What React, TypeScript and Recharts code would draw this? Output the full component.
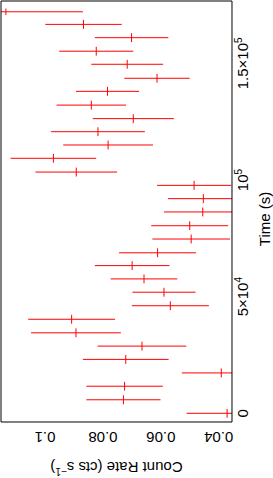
import React from "react";
import { ComposedChart, ReferenceLine, XAxis, YAxis, Label } from "recharts";

const binTime = [
  0, 5800, 11600, 17300, 23100, 28800, 34500, 40300, 46100, 51900, 57600,
  63300, 68800, 74700, 80400, 86300, 92000, 97700, 103400, 109300, 115000,
  120700, 126300, 132100, 138000, 143600, 149600, 155200, 161000, 166700, 172100,
];
const binHalfWidth = [
  1900, 1900, 1900, 1900, 1900, 1900, 1900, 1900, 1900, 1900, 1900,
  1900, 1900, 1900, 1900, 1900, 1900, 1900, 1900, 1900, 1900,
  1900, 1900, 1900, 1900, 1900, 1900, 1900, 1900, 1900, 1400,
];
const countRate = [
  0.0371, 0.0729, 0.0725, 0.0391, 0.0721, 0.0665, 0.0893, 0.0908, 0.0567, 0.0589, 0.0658,
  0.0699, 0.0611, 0.0495, 0.05, 0.0455, 0.0453, 0.0485, 0.0892, 0.0971, 0.0782,
  0.0817, 0.0695, 0.084, 0.0784, 0.0613, 0.0716, 0.0823, 0.0701, 0.0867, 0.1135,
];
const rateError = [
  0.014, 0.0128, 0.0132, 0.0136, 0.0148, 0.0153, 0.0155, 0.015, 0.0133, 0.0109, 0.0115,
  0.0129, 0.0133, 0.0134, 0.0133, 0.0134, 0.0122, 0.0128, 0.0141, 0.0148, 0.0155,
  0.0162, 0.014, 0.012, 0.0109, 0.0113, 0.0124, 0.0128, 0.0127, 0.0132, 0.0266,
];

const timeTicks = [0, 50000, 100000, 150000];
const timeTickText = ["0", "5×10", "10", "1.5×10"];
const timeTickExp = ["", "4", "5", "5"];
const timeMinor = [
  0, 10000, 20000, 30000, 40000, 50000, 60000, 70000, 80000, 90000,
  100000, 110000, 120000, 130000, 140000, 150000, 160000, 170000,
];
const rateTicks = [0.04, 0.06, 0.08, 0.1];
const rateTickText = ["0.04", "0.06", "0.08", "0.1"];
const rateMinor = [0.04, 0.05, 0.06, 0.07, 0.08, 0.09, 0.1, 0.11];

const timeDomain = [-3730, 176720];
const rateDomain = [0.0354, 0.1152];

// the plot is drawn landscape and then turned a quarter turn to the left
const W = 478;
const H = 273;
const FONT = "'Liberation Sans', Arial, Helvetica, sans-serif";
const INK = "#000";
const RED = "#ff0000";
const THIN = 0.01; // frame axes take no room but must not be zero sized

const findIdx = (list: number[], v: number) => list.findIndex((d) => Math.abs(d - v) < 1e-9);

function TimeTick({ x, y, payload }: any) {
  const i = findIdx(timeTicks, payload.value);
  if (i < 0) return null;
  return (
    <text x={x} y={y + 16} textAnchor="middle" fontSize={15} fill={INK} fontFamily={FONT}>
      {timeTickText[i]}
      {timeTickExp[i] ? (
        <tspan dy={-6} fontSize={10}>
          {timeTickExp[i]}
        </tspan>
      ) : null}
    </text>
  );
}

function RateTick({ x, y, payload }: any) {
  const i = findIdx(rateTicks, payload.value);
  if (i < 0) return null;
  const bx = x - 10;
  return (
    <text
      x={bx}
      y={y}
      transform={`rotate(-90 ${bx} ${y})`}
      textAnchor="middle"
      fontSize={15}
      fill={INK}
      fontFamily={FONT}
    >
      {rateTickText[i]}
    </text>
  );
}

function TimeTitle({ viewBox }: any) {
  const x = viewBox.x + 203;
  const y = viewBox.y + 38;
  return (
    <text x={x} y={y} textAnchor="middle" fontSize={15} fill={INK} fontFamily={FONT}>
      Time (s)
    </text>
  );
}

function RateTitle({ viewBox }: any) {
  const x = viewBox.x + 16;
  const y = viewBox.y + viewBox.height / 2;
  return (
    <text
      x={x}
      y={y}
      transform={`rotate(-90 ${x} ${y})`}
      textAnchor="middle"
      fontSize={15}
      fill={INK}
      fontFamily={FONT}
    >
      Count Rate (cts s
      <tspan dy={-6} fontSize={10}>
        −1
      </tspan>
      <tspan dy={6}>)</tspan>
    </text>
  );
}

// inward tick marks on all four sides of the frame
function frameX(side: "top" | "bottom", ticks: number[], size: number, line: boolean) {
  const id = `${side}-${size}`;
  return (
    <XAxis
      key={id}
      xAxisId={id}
      orientation={side}
      mirror
      height={THIN}
      type="number"
      domain={timeDomain}
      allowDataOverflow
      ticks={ticks}
      interval={0}
      tick={false}
      tickSize={size}
      tickLine={{ stroke: INK, strokeWidth: 1 }}
      axisLine={line ? { stroke: INK, strokeWidth: 1 } : false}
    />
  );
}

function frameY(side: "left" | "right", ticks: number[], size: number, line: boolean) {
  const id = `${side}-${size}`;
  return (
    <YAxis
      key={id}
      yAxisId={id}
      orientation={side}
      mirror
      width={THIN}
      type="number"
      domain={rateDomain}
      allowDataOverflow
      ticks={ticks}
      interval={0}
      tick={false}
      tickSize={size}
      tickLine={{ stroke: INK, strokeWidth: 1 }}
      axisLine={line ? { stroke: INK, strokeWidth: 1 } : false}
    />
  );
}

export default function App() {
  const bins = binTime.map((t, i) => ({
    t,
    dt: binHalfWidth[i],
    rate: countRate[i],
    dr: rateError[i],
  }));

  return (
    <div style={{ position: "absolute", left: 0, top: 0, width: H, height: W, overflow: "hidden", background: "#fff" }}>
      <div
        style={{
          position: "absolute",
          left: 0,
          top: 0,
          width: W,
          height: H,
          transformOrigin: "0 0",
          transform: `translateY(${W}px) rotate(-90deg)`,
        }}
      >
        <ComposedChart width={W} height={H} data={bins} margin={{ top: 1, right: 1, bottom: 0, left: 0 }}>
          <XAxis
            xAxisId="t"
            dataKey="t"
            type="number"
            domain={timeDomain}
            allowDataOverflow
            ticks={timeTicks}
            interval={0}
            height={41}
            tickSize={0}
            tickMargin={0}
            tickLine={false}
            axisLine={false}
            tick={<TimeTick />}
          >
            <Label content={<TimeTitle />} />
          </XAxis>
          <YAxis
            yAxisId="r"
            dataKey="rate"
            type="number"
            domain={rateDomain}
            allowDataOverflow
            ticks={rateTicks}
            interval={0}
            width={56}
            tickSize={0}
            tickMargin={0}
            tickLine={false}
            axisLine={false}
            tick={<RateTick />}
          >
            <Label content={<RateTitle />} />
          </YAxis>
          {frameX("top", timeTicks, 7, true)}
          {frameX("top", timeMinor, 4, false)}
          {frameX("bottom", timeTicks, 7, true)}
          {frameX("bottom", timeMinor, 4, false)}
          {frameY("left", rateTicks, 7, true)}
          {frameY("left", rateMinor, 4, false)}
          {frameY("right", rateTicks, 7, true)}
          {frameY("right", rateMinor, 4, false)}
          {/* count-rate error of each bin, clipped to the frame */}
          {bins.map((b) => (
            <ReferenceLine
              key={`r${b.t}`}
              xAxisId="t"
              yAxisId="r"
              segment={[
                { x: b.t, y: b.rate - b.dr },
                { x: b.t, y: b.rate + b.dr },
              ]}
              ifOverflow="hidden"
              stroke={RED}
              strokeWidth={1}
            />
          ))}
          {/* time span of each bin */}
          {bins.map((b) => (
            <ReferenceLine
              key={`t${b.t}`}
              xAxisId="t"
              yAxisId="r"
              segment={[
                { x: b.t - b.dt, y: b.rate },
                { x: b.t + b.dt, y: b.rate },
              ]}
              ifOverflow="hidden"
              stroke={RED}
              strokeWidth={1}
            />
          ))}
        </ComposedChart>
      </div>
    </div>
  );
}
